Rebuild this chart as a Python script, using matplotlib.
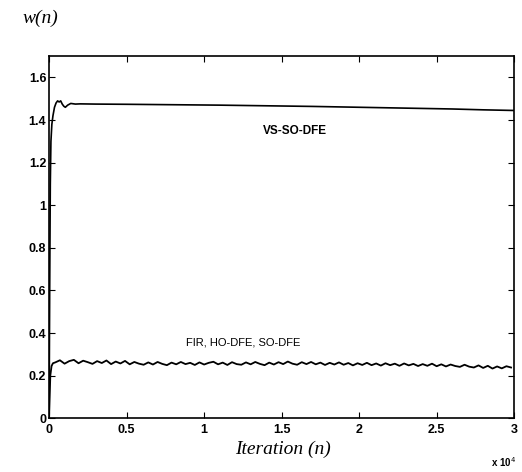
import numpy as np
import matplotlib
matplotlib.use('Agg')
import matplotlib.pyplot as plt

# VS-SO-DFE weight trajectory
vs_n = [0, 40, 80, 120, 180, 250, 350, 450, 550, 650, 750, 850, 950, 1050,
        1200, 1400, 1700, 2000, 3000, 5000, 8000, 11000, 14000, 17000,
        20000, 23000, 26000, 28000, 30000]
vs_w = [0.0, 0.6, 1.1, 1.3, 1.38, 1.42, 1.46, 1.48, 1.49, 1.485, 1.49, 1.475,
        1.465, 1.46, 1.47, 1.478, 1.475, 1.476, 1.475, 1.474, 1.472, 1.47,
        1.467, 1.464, 1.46, 1.456, 1.452, 1.448, 1.445]

# FIR / HO-DFE / SO-DFE weight trajectory
fir_head_n = [0, 80, 160, 250]
fir_head_w = [0.0, 0.2, 0.245, 0.258]
fir_tail_w = [
    0.262, 0.272, 0.256, 0.268, 0.274, 0.258, 0.270, 0.263, 0.255, 0.268,
    0.259, 0.271, 0.254, 0.266, 0.257, 0.269, 0.253, 0.264, 0.256, 0.251,
    0.262, 0.252, 0.264, 0.255, 0.249, 0.261, 0.253, 0.264, 0.254, 0.260,
    0.250, 0.262, 0.252, 0.260, 0.265, 0.253, 0.261, 0.250, 0.263, 0.254,
    0.251, 0.262, 0.253, 0.264, 0.255, 0.249, 0.261, 0.252, 0.263, 0.254,
    0.266, 0.256, 0.251, 0.263, 0.254, 0.264, 0.253, 0.261, 0.250, 0.260,
    0.252, 0.262, 0.251, 0.259, 0.248, 0.258, 0.250, 0.260, 0.249, 0.257,
    0.247, 0.258, 0.249, 0.256, 0.246, 0.257, 0.248, 0.255, 0.245, 0.254,
    0.246, 0.256, 0.244, 0.253, 0.243, 0.252, 0.245, 0.241, 0.251, 0.242,
    0.238, 0.248, 0.236, 0.246, 0.233, 0.243, 0.234, 0.244, 0.238,
]
fir_tail_n = 400 + 300 * np.arange(len(fir_tail_w))
fir_n = np.concatenate([fir_head_n, fir_tail_n])
fir_w = np.concatenate([fir_head_w, fir_tail_w])

x_ticks = [0, 5000, 10000, 15000, 20000, 25000, 30000]
x_labels = ['0', '0.5', '1', '1.5', '2', '2.5', '3']
y_ticks = [0, 0.2, 0.4, 0.6, 0.8, 1.0, 1.2, 1.4, 1.6]
y_labels = ['0', '0.2', '0.4', '0.6', '0.8', '1', '1.2', '1.4', '1.6']

fig = plt.figure(figsize=(5.22, 4.72), dpi=100)
ax = fig.add_axes([0.094, 0.114, 0.891, 0.767])

ax.plot(vs_n, vs_w, color='black', linewidth=1.2)
ax.plot(fir_n, fir_w, color='black', linewidth=1.3)

ax.set_xlim(0, 30000)
ax.set_ylim(0, 1.7)
ax.set_xticks(x_ticks)
ax.set_xticklabels(x_labels)
ax.set_yticks(y_ticks)
ax.set_yticklabels(y_labels)
ax.tick_params(direction='in', top=True, right=True, length=4, width=0.8,
               labelsize=9, pad=2)
ax.tick_params(axis='x', pad=4)
for lab in ax.get_xticklabels() + ax.get_yticklabels():
    lab.set_fontweight('bold')
    lab.set_family('Liberation Sans')
for sp in ax.spines.values():
    sp.set_linewidth(1.2)

ax.text(13800, 1.35, 'VS-SO-DFE', fontsize=8.5, fontweight='bold',
        family='Liberation Sans', va='center')
ax.text(8850, 0.355, 'FIR, HO-DFE, SO-DFE', fontsize=8,
        family='Liberation Sans', va='center')

fig.text(0.078, 0.962, 'w(n)', fontsize=14, style='italic',
         family='Liberation Serif', ha='center', va='center')
fig.text(0.542, 0.047, 'Iteration (n)', fontsize=14, style='italic',
         family='Liberation Serif', ha='center', va='center')
fig.text(0.965, 0.022, 'x 10$^4$', fontsize=7, fontweight='bold',
         family='Liberation Sans', ha='center', va='center')

fig.savefig('out.png', dpi=100, facecolor='white')
